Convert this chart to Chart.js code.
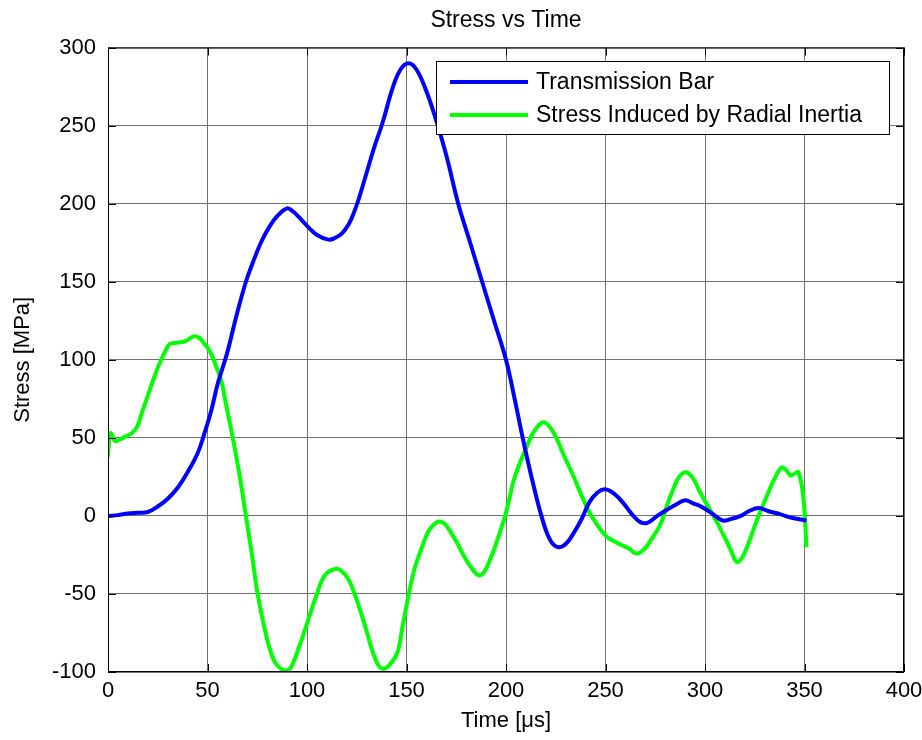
<!DOCTYPE html>
<html>
<head>
<meta charset="utf-8">
<script src="https://cdn.jsdelivr.net/npm/chart.js@4"></script>
<style>
  body { margin: 0; background: #fff; }
</style>
</head>
<body>
<canvas id="stressChart" width="922" height="740"></canvas>
<script>
// values
const barTime = [0, 5, 10, 15, 20, 25, 30, 35, 40, 45, 48, 52, 55, 60, 64.3, 69.3, 72.7, 76.8, 81, 85, 90, 93, 97, 101, 105, 110.7, 114, 117.6, 121, 123.5, 126, 130, 133.5, 138, 143, 147, 151, 155, 160, 165, 170, 176, 182, 188, 194, 200, 204.5, 208.4, 213, 217.8, 222, 226, 230, 234, 238, 242, 246, 249.5, 253, 257, 260, 264, 267.5, 271, 276, 281, 285, 290, 294, 298, 303, 309, 313, 318, 322, 327, 332, 338, 343, 349, 351];
const barStress = [0, 0.5, 1.5, 2, 2.5, 6, 11, 18, 28, 40, 51, 68, 84, 105, 127, 150, 162, 175, 185, 192, 197, 195, 190, 184.5, 180, 177, 178, 181, 187, 194, 203, 220, 235, 252, 274, 286, 290, 286, 272, 253, 231, 200, 175, 150, 125, 100, 74, 50, 24, 0, -15, -20, -18, -11, -2, 9, 15, 17, 15.5, 11, 6.5, 0, -4, -4.5, 0, 4, 7, 10, 8, 6, 2, -3, -2, 0, 3, 5, 3, 1, -1, -2.5, -3];

const inertiaTime = [0, 1, 2, 3.5, 6, 9, 12, 14.6, 17, 20, 23, 26, 29, 31, 35, 39, 43, 46, 48, 51, 54, 56.8, 59.7, 62.7, 66, 69.3, 72, 75.2, 78, 81, 84, 87, 89.6, 92, 96, 100, 105, 109, 114, 117, 121, 125, 129.3, 133, 136, 138.5, 141, 145.3, 148, 151.2, 154, 157.8, 161, 165.3, 168.6, 172, 175.3, 179, 182.5, 186.2, 189, 192, 195, 198.6, 201, 203.7, 207, 210.3, 214, 218.7, 222, 225.3, 229, 233.7, 238, 242, 246, 250.3, 254, 257.8, 262, 265, 269, 273, 277.4, 281, 284, 287, 290.5, 294, 297.6, 302, 306, 310, 313, 316, 319, 322.6, 326, 331, 335, 338.7, 341, 343, 345, 347, 349.4, 351];
const inertiaStress = [38, 53, 52, 48, 49, 51, 53, 57, 66, 77, 88, 98, 106, 110, 111, 112, 115, 114, 111, 106, 97, 87, 69, 50, 27, 0, -22, -50, -68, -84, -94, -98, -99, -97, -84, -69, -50, -38, -34, -35, -41, -54, -71, -87, -96, -98, -96, -88, -71, -50, -34, -20, -10, -4, -4.5, -10, -17, -26, -33, -38, -36, -28, -18, -4, 7, 22, 34, 44, 54, 60, 57, 50, 39, 26, 13, 2, -6, -13, -16, -18.5, -21, -24, -22, -15, -6, 7, 17, 25, 28, 24, 15, 5, -4, -14, -22, -29.5, -26, -15, -3, 12.5, 24, 31, 29, 26, 27, 28, 12, -20];

const seriesNames = ['Transmission Bar', 'Stress Induced by Radial Inertia'];
const seriesColors = ['#0000ff', '#00ff00'];
const xTicks = [0, 50, 100, 150, 200, 250, 300, 350, 400];
const yTicks = [-100, -50, 0, 50, 100, 150, 200, 250, 300];

const fontFamily = '"Liberation Sans", Arial, sans-serif';

function toPoints(xs, ys) {
  return xs.map((x, i) => ({ x: x, y: ys[i] }));
}

// matlab style box, inward ticks and legend
const matlabFrame = {
  id: 'matlabFrame',
  afterDatasetsDraw(chart) {
    const ctx = chart.ctx;
    const a = chart.chartArea;
    const xs = chart.scales.x;
    const ys = chart.scales.y;
    const tick = 8;
    ctx.save();
    ctx.strokeStyle = '#000';
    ctx.lineWidth = 1;
    ctx.strokeRect(a.left + 0.5, a.top + 0.5, a.right - a.left - 1, a.bottom - a.top - 1);
    ctx.beginPath();
    xTicks.forEach(v => {
      const px = Math.round(xs.getPixelForValue(v)) + 0.5;
      ctx.moveTo(px, a.bottom); ctx.lineTo(px, a.bottom - tick);
      ctx.moveTo(px, a.top); ctx.lineTo(px, a.top + tick);
    });
    yTicks.forEach(v => {
      const py = Math.round(ys.getPixelForValue(v)) + 0.5;
      ctx.moveTo(a.left, py); ctx.lineTo(a.left + tick, py);
      ctx.moveTo(a.right, py); ctx.lineTo(a.right - tick, py);
    });
    ctx.stroke();

    // legend box
    const bx = 436, by = 61, bw = 453, bh = 73;
    ctx.fillStyle = '#fff';
    ctx.fillRect(bx, by, bw, bh);
    ctx.strokeRect(bx + 0.5, by + 0.5, bw, bh);
    ctx.font = '23px ' + fontFamily;
    ctx.textBaseline = 'middle';
    ctx.textAlign = 'left';
    chart.data.datasets.forEach((ds, i) => {
      const ly = by + 21 + i * 33;
      ctx.strokeStyle = ds.borderColor;
      ctx.lineWidth = 4;
      ctx.beginPath();
      ctx.moveTo(bx + 14, ly);
      ctx.lineTo(bx + 92, ly);
      ctx.stroke();
      ctx.fillStyle = '#000';
      ctx.fillText(ds.label, bx + 100, ly + 1);
    });
    ctx.restore();
  }
};

new Chart(document.getElementById('stressChart'), {
  type: 'line',
  data: {
    datasets: [
      {
        label: seriesNames[0],
        data: toPoints(barTime, barStress),
        borderColor: seriesColors[0],
        borderWidth: 4,
        pointRadius: 0,
        tension: 0.4
      },
      {
        label: seriesNames[1],
        data: toPoints(inertiaTime, inertiaStress),
        borderColor: seriesColors[1],
        borderWidth: 4,
        pointRadius: 0,
        tension: 0.4
      }
    ]
  },
  options: {
    responsive: false,
    animation: false,
    layout: { padding: { left: 0, right: 18, top: 0, bottom: 0 } },
    plugins: {
      legend: { display: false },
      tooltip: { enabled: false },
      title: {
        display: true,
        fullSize: false,
        text: 'Stress vs Time',
        color: '#000',
        font: { family: fontFamily, size: 23, weight: 'normal' },
        padding: { top: 7, bottom: 13 }
      }
    },
    scales: {
      x: {
        type: 'linear',
        min: 0,
        max: 400,
        afterFit(scale) {
          scale.height = 68;
          scale.paddingLeft = 0;
          scale.paddingRight = 0;
        },
        afterBuildTicks(scale) { scale.ticks = xTicks.map(v => ({ value: v })); },
        border: { display: false },
        grid: { color: '#707070', borderDash: [1, 2], drawTicks: false },
        ticks: { color: '#000', padding: 6, maxRotation: 0, font: { family: fontFamily, size: 22 } },
        title: {
          display: true,
          text: 'Time [μs]',
          color: '#000',
          font: { family: fontFamily, size: 22 },
          padding: { top: 0, bottom: 6 }
        }
      },
      y: {
        type: 'linear',
        min: -100,
        max: 300,
        afterFit(scale) {
          scale.width = 108;
          scale.paddingTop = 0;
          scale.paddingBottom = 0;
        },
        afterBuildTicks(scale) { scale.ticks = yTicks.map(v => ({ value: v })); },
        border: { display: false },
        grid: { color: '#707070', borderDash: [1, 2], drawTicks: false },
        ticks: { color: '#000', padding: 12, font: { family: fontFamily, size: 22 } },
        title: {
          display: true,
          text: 'Stress [MPa]',
          color: '#000',
          font: { family: fontFamily, size: 22 },
          padding: { top: 10, bottom: 0 }
        }
      }
    }
  },
  plugins: [matlabFrame]
});
</script>
</body>
</html>
